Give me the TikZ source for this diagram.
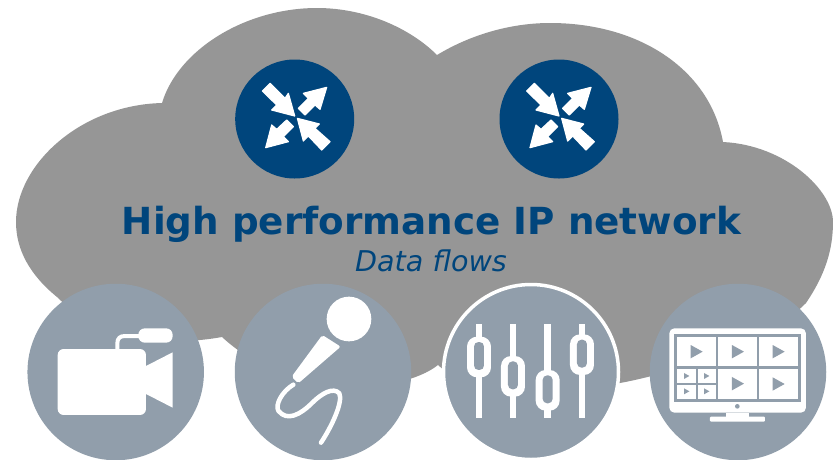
\documentclass[tikz,border=0pt]{standalone}
\usepackage{fontspec}
\setmainfont{DejaVu Sans}
\definecolor{cloudgrey}{HTML}{969696}
\definecolor{navy}{HTML}{00457C}
\definecolor{slate}{HTML}{919EAB}
\tikzset{
  hub/.style={circle,fill=navy,minimum size=119pt,inner sep=0pt},
  source/.style={circle,fill=slate,minimum size=176.5pt,inner sep=0pt},
  icon/.style={fill=white,draw=none},
  wire/.style={draw=white,line cap=round,line join=round,fill=none},
  play/.style={fill=slate,draw=none},
  arrowglyph/.style={fill=white,draw=white,line width=1.2pt,line join=round}
}
\newcommand{\hubarrows}{%
  \path[arrowglyph] (0,-9)--(-69,-27)--(-54,-42)--(-97,-84)--(-74,-107)--(-29,-62)--(-19,-77)--cycle;
  \path[arrowglyph] (96,-95)--(76,-29)--(61,-42)--(31,-12)--(11,-32)--(41,-62)--(26,-77)--cycle;
  \path[arrowglyph] (-87,86)--(-69,18)--(-54,31)--(-24,3)--(-4,23)--(-34,53)--(-19,68)--cycle;
  \path[arrowglyph] (8,-2)--(74,15)--(61,28)--(106,68)--(81,93)--(41,51)--(26,66)--cycle;
}
\newcommand{\playtri}[3]{\path[play] (#1,#2-#3)--(#1,#2+#3)--(#1+#3*1.8,#2)--cycle;}
\newcommand{\sliderknob}[2]{%
  \draw[wire,line cap=butt,line width=6.6pt] (#1,133)--(#1,415);
  \fill[white,rounded corners=10pt] (#1-36,#2) rectangle (#1+36,#2+122);
  \fill[slate,rounded corners=4.5pt] (#1-15,#2+16) rectangle (#1+15,#2+100);
}
\begin{document}
\begin{tikzpicture}[x=1pt,y=-1pt]
\useasboundingbox (0,0) rectangle (833,459);
% cloud
\fill[cloudgrey] (16,222)
  .. controls (16,165) and (80,105) .. (162,103)
  .. controls (178,50) and (245,8) .. (317,8)
  .. controls (365,8) and (410,28) .. (437,55)
  .. controls (470,35) and (510,23) .. (550,23)
  .. controls (640,23) and (710,70) .. (723,142)
  .. controls (785,145) and (833,190) .. (833,222)
  .. controls (833,250) and (825,275) .. (806,303)
  .. controls (770,340) and (680,372) .. (620,383)
  .. controls (540,400) and (470,395) .. (438,365)
  .. controls (400,395) and (290,400) .. (222,337)
  .. controls (150,350) and (90,330) .. (57,297)
  .. controls (30,275) and (16,250) .. (16,222) -- cycle;
% hubs
\node[hub] (hubA) at (294.7,119) {};
\node[hub] (hubB) at (559,119) {};
\begin{scope}[shift={(hubA.center)},scale=.3333]\hubarrows\end{scope}
\begin{scope}[shift={(hubB.center)},scale=.3333]\hubarrows\end{scope}
% title
\node[text=navy,inner sep=0pt,font=\bfseries\fontsize{37.3}{40}\selectfont] (title) at (431.5,224.5) {High performance IP network};
\node[text=navy,inner sep=0pt,font=\itshape\fontsize{28.6}{32}\selectfont] (subtitle) at (431,261) {Data flows};
% camera
\node[source] (camera) at (115.7,372) {};
\begin{scope}[shift={(20,280)},scale=.3333]
  \fill[white,rounded corners=6pt] (113,207) rectangle (378,405);
  \path[icon] (378,258)--(458,217)--(458,383)--(378,342)--cycle;
  \draw[wire,line cap=butt,line width=4pt] (292,207)--(292,190) .. controls (292,175) and (300,168) .. (315,168) -- (360,168);
  \fill[white,rounded corners=6.5pt] (355,145) rectangle (458,188);
\end{scope}
% microphone
\node[source] (mic) at (323,372) {};
\begin{scope}[shift={(225,280)},scale=.3333]
  \fill[white] (372,117) circle[radius=67];
  \path[icon,rounded corners=2pt] (292,165)--(347,200)--(220,310)--(200,290)--cycle;
  \draw[wire,line width=4.5pt] (205,314) .. controls (170,335) and (150,375) .. (160,392)
    .. controls (185,425) and (225,405) .. (260,370)
    .. controls (290,340) and (325,320) .. (343,340)
    .. controls (355,365) and (320,440) .. (288,488);
\end{scope}
% mixer
\node[source,draw=white,line width=3.5pt,minimum size=175pt] (mixer) at (531,372) {};
\begin{scope}[shift={(435,280)},scale=.3333]
  \sliderknob{132}{170}
  \sliderknob{234}{228}
  \sliderknob{338}{270}
  \sliderknob{441}{163}
\end{scope}
% monitor
\node[source] (screen) at (738,372) {};
\begin{scope}[shift={(640,280)},scale=.3333]
  \fill[white,rounded corners=5pt] (88,145) rectangle (498,398);
  \fill[slate] (103,162) rectangle (483,365);
  \fill[white] (110,170) rectangle (228,258);
  \fill[white] (235,170) rectangle (352,258);
  \fill[white] (358,170) rectangle (475,258);
  \fill[white] (235,268) rectangle (352,357);
  \fill[white] (358,268) rectangle (475,357);
  \fill[white] (112,268) rectangle (168,308);
  \fill[white] (174,268) rectangle (228,308);
  \fill[white] (112,315) rectangle (168,357);
  \fill[white] (174,315) rectangle (228,357);
  \playtri{152}{215}{20}
  \playtri{276}{215}{20}
  \playtri{398}{215}{20}
  \playtri{276}{311}{20}
  \playtri{398}{312}{20}
  \playtri{132}{288}{9}
  \playtri{192}{288}{9}
  \playtri{132}{334}{9}
  \playtri{192}{334}{9}
  \fill[slate] (292,379) circle[radius=7];
  \fill[white] (258,398) rectangle (328,410);
  \fill[white,rounded corners=1pt] (210,410) rectangle (375,425);
\end{scope}
\end{tikzpicture}
\end{document}
